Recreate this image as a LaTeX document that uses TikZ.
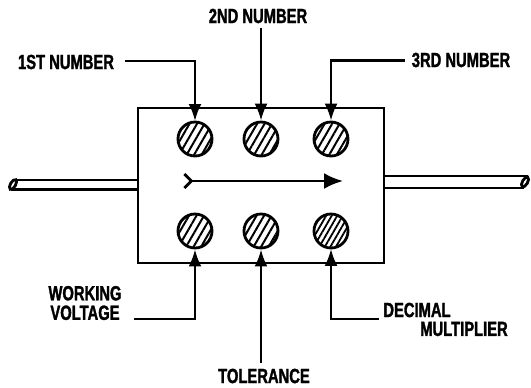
\documentclass[tikz,border=0pt]{standalone}
\usepackage{fontspec}
\setmainfont[FakeStretch=0.72,FakeBold=1.5]{Liberation Sans Bold}
\usetikzlibrary{arrows.meta,patterns.meta}
\begin{document}
\begin{tikzpicture}[
            x=1bp, y=-1bp,
            pad/.style={circle, draw, line width=2.8bp, minimum size=34bp, inner sep=0pt,
                pattern={Lines[angle=60, distance=6.5bp, line width=2bp]}},
            lettering/.style={font=\fontsize{20.5bp}{19.5bp}\selectfont, inner sep=0pt},
            callout/.style={line width=2.5bp, -{Latex[length=17bp, width=13bp]}}
        ]
            \useasboundingbox (0,0) rectangle (531,387);

            \draw[line width=2.5bp] (138,108) rectangle (384,263);

            \node[pad] (n1) at (195, 139) {};
            \node[pad] (n2) at (261, 139) {};
            \node[pad] (n3) at (331, 139) {};
            \node[pad] (wv) at (195, 231) {};
            \node[pad] (tl) at (261, 231) {};
            \node[pad, pattern={Lines[angle=60, distance=4.8bp, line width=1.8bp]}] (dm) at (331, 231) {};

            \node[lettering] (first) at (66, 62) {1ST NUMBER};
            \node[lettering] (second) at (258, 16) {2ND NUMBER};
            \node[lettering] (third) at (461, 60) {3RD NUMBER};
            \node[lettering, align=center] (working) at (85, 303) {WORKING\\VOLTAGE};
            \node[lettering] (tolerance) at (264, 376) {TOLERANCE};
            \node[lettering] (decimal) at (417, 310) {DECIMAL};
            \node[lettering] (multiplier) at (464, 329) {MULTIPLIER};

            \coordinate (a) at (125, 61);
            \coordinate (b) at (261, 28);
            \coordinate (c) at (405, 60.5);
            \coordinate (d) at (134, 319);
            \coordinate (e) at (261, 363);
            \coordinate (f) at (379, 319);

            \draw[callout] (a) -| (n1.north);
            \draw[callout] (b) -- (n2.north);
            \draw[callout] (c) -| (n3.north);
            \draw[callout] (d) -| (wv.south);
            \draw[callout] (e) -- (tl.south);
            \draw[callout] (f) -| (dm.south);

            % direction arrow
            \coordinate (g) at (183, 181);
            \coordinate (h) at (343, 181);
            \draw[line width=2.7bp, {Straight Barb[reversed, length=7bp, width=14bp]}-{Latex[length=19bp, width=16bp]}] (g) -- (h);

            % leads
            \draw[line width=2.5bp] (138,180) -- (15,180);
            \draw[line width=2.5bp] (138,189.5) -- (11,189.5);
            \draw[line width=2.5bp] (384,176) -- (528,176);
            \draw[line width=2.5bp] (384,188) -- (524,188);
            \draw[line width=2.8bp, fill=white, rotate around={60:(13,184.5)}] (13,184.5) ellipse (5.5 and 2.6);
            \draw[line width=2.8bp, fill=white, rotate around={60:(525,182)}] (525,182) ellipse (5.5 and 2.6);
        \end{tikzpicture}
\end{document}
